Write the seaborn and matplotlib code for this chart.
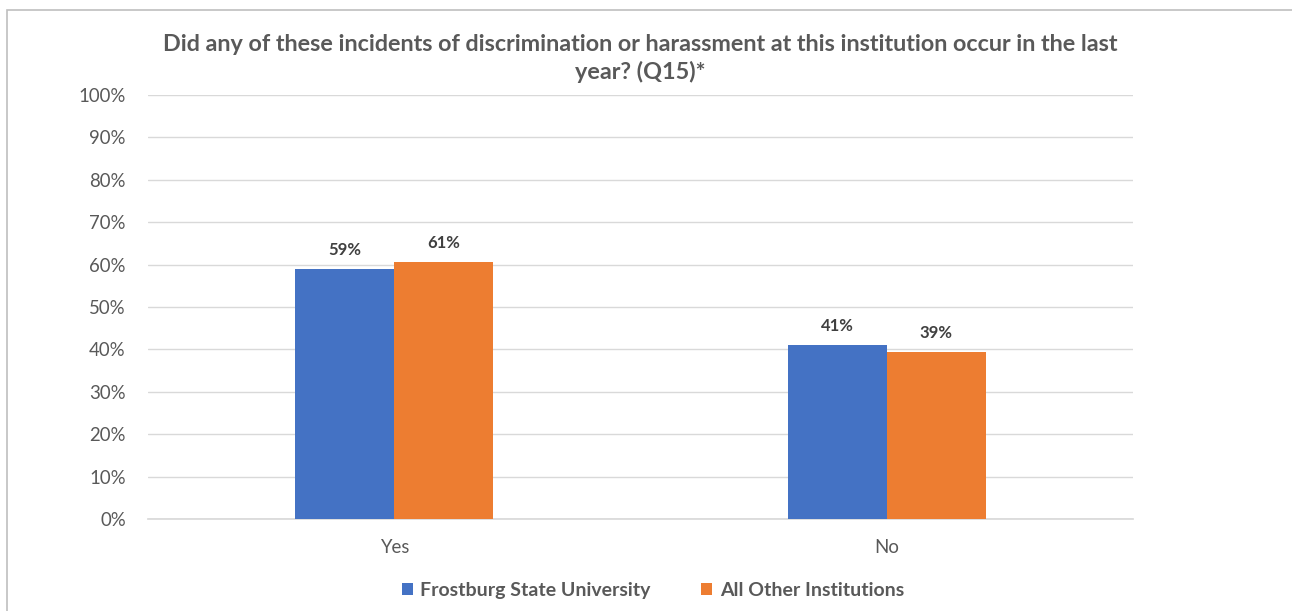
import matplotlib
matplotlib.use("Agg")
import matplotlib.pyplot as plt
import seaborn as sns
import pandas as pd
from matplotlib.patches import Rectangle

categories = ["Yes", "No"]
series_names = ["Frostburg State University", "All Other Institutions"]
frostburg = [59.0, 41.0]
others = [60.6, 39.4]
labels_frostburg = ["59%", "41%"]
labels_others = ["61%", "39%"]
yticks = list(range(0, 101, 10))
title = "Did any of these incidents of discrimination or harassment at this institution occur in the last\nyear? (Q15)*"

colors = ["#4472C4", "#ED7D31"]
txt = "#595959"

df = pd.DataFrame({
    "cat": categories * 2,
    "series": [series_names[0]] * 2 + [series_names[1]] * 2,
    "val": frostburg + others,
})

sns.set_theme(style="white")
plt.rcParams["font.family"] = ["Lato", "DejaVu Sans"]

fig = plt.figure(figsize=(12.92, 6.11), dpi=100)
ax = fig.add_axes([148/1292, 1-519/611, (1133-148)/1292, (519-95)/611])

sns.barplot(data=df, x="cat", y="val", hue="series", palette=colors,
            width=0.402, ax=ax, saturation=1, legend=True, zorder=3, linewidth=0)

ax.set_ylim(0, 100)
ax.set_yticks(yticks)
ax.set_yticklabels([f"{t}%" for t in yticks], color=txt, fontsize=13.4)
ax.tick_params(axis="x", colors=txt, labelsize=13.4, pad=14.5, length=0)
ax.tick_params(axis="y", length=0, pad=16)
ax.set_xlabel("")
ax.set_ylabel("")
ax.grid(axis="y", color="#D9D9D9", linewidth=1, zorder=0)
for s in ["top", "right", "left"]:
    ax.spines[s].set_visible(False)
ax.spines["bottom"].set_color("#D9D9D9")

for cont, labs in zip(ax.containers, [labels_frostburg, labels_others]):
    ax.bar_label(cont, labels=labs, padding=8, fontsize=12, fontweight="bold", color="#404040")

leg = ax.legend(loc="center", bbox_to_anchor=((653-148)/985, -0.168), ncol=2, frameon=False,
                fontsize=14, handlelength=0.55, handleheight=0.55, columnspacing=2.6, handletextpad=0.4)
for t in leg.get_texts():
    t.set_color(txt)
    t.set_fontweight("bold")

fig.text(640/1292, 1-58.5/611, title, ha="center", va="center", fontsize=16.8,
         fontweight="bold", color=txt, linespacing=1.28)

fig.patches.append(Rectangle((6.5/1292, -0.05), 1.2, 1-10.5/611 + 0.05, transform=fig.transFigure,
                             fill=False, edgecolor="#BFBFBF", linewidth=1.2))

fig.savefig("out.png", dpi=100)
